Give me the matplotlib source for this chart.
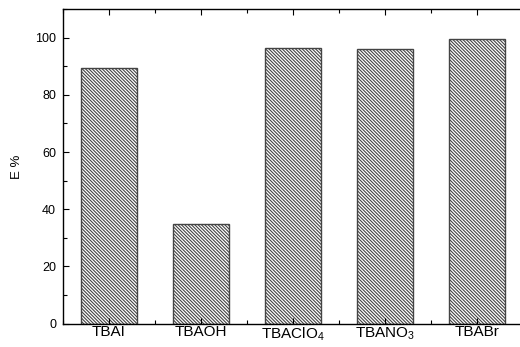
import matplotlib
matplotlib.use("Agg")
import matplotlib.pyplot as plt
from matplotlib.ticker import MultipleLocator

plt.rcParams['font.family'] = ['Liberation Sans', 'DejaVu Sans']
plt.rcParams['mathtext.fontset'] = 'custom'
plt.rcParams['mathtext.rm'] = 'Liberation Sans'
plt.rcParams['mathtext.it'] = 'Liberation Sans'
plt.rcParams['hatch.linewidth'] = 0.8
plt.rcParams['hatch.color'] = '#111111'

categories = ['TBAI', 'TBAOH', 'TBAClO$_4$', 'TBANO$_3$', 'TBABr']
values = [89.2, 34.7, 96.2, 95.9, 99.4]
ylabel = 'E %'

fig = plt.figure(figsize=(5.2, 3.47), dpi=100)
ax = fig.add_axes([0.1212, 0.0671, 0.8846, 0.9070])

x = list(range(1, len(categories) + 1))
ax.bar(x, values, width=0.6, facecolor='white', edgecolor='#444444',
       linewidth=1.0, hatch='\\' * 10)

ax.set_xlim(0.5, 5.5)
ax.set_ylim(0, 110)
ax.set_xticks(x)
ax.set_xticklabels(categories)
ax.xaxis.set_minor_locator(MultipleLocator(0.5))
ax.yaxis.set_major_locator(MultipleLocator(20))
ax.yaxis.set_minor_locator(MultipleLocator(10))
ax.tick_params(axis='both', which='both', direction='in', top=True, right=False,
               width=0.8)
ax.tick_params(axis='x', which='major', labelsize=11, pad=1)
ax.tick_params(axis='y', which='major', labelsize=9, pad=5)
ax.tick_params(axis='both', which='major', length=4)
ax.tick_params(axis='both', which='minor', length=3)
ax.set_ylabel(ylabel, fontsize=9.5, labelpad=9)
for s in ax.spines.values():
    s.set_linewidth(1.0)

fig.savefig('out.png', dpi=100)
